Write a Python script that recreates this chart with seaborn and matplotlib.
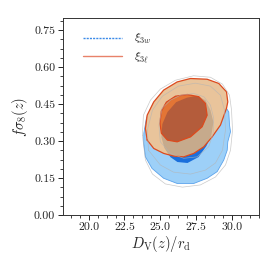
import matplotlib
matplotlib.use("Agg")
import matplotlib.pyplot as plt
import matplotlib.ticker as ticker
from matplotlib.lines import Line2D
import numpy as np
import pandas as pd
import seaborn as sns

sns.set_theme(style="ticks")
plt.rcParams["font.family"] = ["cmr10", "DejaVu Serif"]
plt.rcParams["mathtext.fontset"] = "cm"
plt.rcParams["axes.formatter.use_mathtext"] = True

# contour outlines (D_V/r_d, f sigma_8)
blue95_x = [29.54, 29.77, 29.82, 29.89, 29.70, 29.66, 29.42, 28.96, 28.26, 27.33, 26.17,
            25.23, 24.42, 23.96, 23.84, 23.85, 24.03, 24.51, 25.35, 26.40, 27.45, 28.49, 29.19]
blue95_y = [0.439, 0.418, 0.365, 0.338, 0.297, 0.263, 0.223, 0.176, 0.149, 0.128, 0.128,
            0.149, 0.189, 0.236, 0.291, 0.332, 0.393, 0.454, 0.499, 0.523, 0.527, 0.515, 0.482]

blue68_x = [27.56, 28.14, 28.49, 28.70, 28.56, 28.21, 27.66, 26.89, 26.19, 25.70, 25.28,
            25.07, 25.14, 25.50, 26.10, 26.85]
blue68_y = [0.484, 0.466, 0.426, 0.377, 0.324, 0.280, 0.235, 0.211, 0.215, 0.235, 0.272,
            0.316, 0.369, 0.418, 0.458, 0.476]

orange95_x = [24.08, 23.96, 24.08, 24.54, 25.23, 26.17, 27.10, 28.26, 29.07, 29.61, 29.70,
              29.61, 29.19, 28.61, 28.03, 27.33, 26.63, 25.93, 25.23, 24.54]
orange95_y = [0.304, 0.351, 0.405, 0.459, 0.507, 0.540, 0.554, 0.551, 0.534, 0.500, 0.459,
              0.433, 0.365, 0.317, 0.277, 0.250, 0.236, 0.239, 0.250, 0.270]

orange68_x = [26.87, 27.68, 28.14, 28.26, 27.91, 27.10, 26.17, 25.49, 25.07, 24.97, 25.07,
              25.42, 26.05]
orange68_y = [0.489, 0.480, 0.453, 0.405, 0.358, 0.317, 0.297, 0.304, 0.332, 0.373, 0.422,
              0.458, 0.482]

# thin grey outlines
grey_outer_x = [23.75, 23.82, 24.31, 25.00, 26.05, 27.31, 28.49, 29.33, 29.82, 29.96, 30.03,
                29.89, 29.54, 28.84, 27.79, 26.54, 25.35, 24.45, 23.96]
grey_outer_y = [0.324, 0.405, 0.466, 0.511, 0.547, 0.565, 0.559, 0.531, 0.486, 0.426, 0.345,
                0.263, 0.203, 0.154, 0.122, 0.113, 0.126, 0.166, 0.223]
grey_mid_x = [24.17, 24.10, 24.45, 25.14, 26.26, 27.45, 28.49, 29.19, 29.47, 29.54, 29.33,
              28.84, 28.14, 27.10, 25.91, 25.00]
grey_mid_y = [0.263, 0.345, 0.426, 0.482, 0.523, 0.535, 0.523, 0.486, 0.426, 0.345, 0.263,
              0.211, 0.182, 0.166, 0.174, 0.203]
grey_inner_x = [25.12, 25.70, 26.40, 27.33, 28.03, 28.49, 28.72, 28.68, 28.37, 27.56, 26.63,
                25.70, 25.00, 24.90]
grey_inner_y = [0.433, 0.466, 0.486, 0.493, 0.480, 0.446, 0.392, 0.331, 0.277, 0.236, 0.230,
                0.250, 0.297, 0.365]

legend_labels = [r"$\xi_{3w}$", r"$\xi_{3\ell}$"]

c_blue_light = "#9dd0f8"
c_blue_dark = "#1a6fdc"
c_tan = "#e9c49b"
c_greytan = "#c6aa8c"
c_orange = "#e37535"
c_brown = "#b45c3b"
c_edge = "#dc4a1e"


def closed(xs, ys):
    return pd.DataFrame({"x": list(xs) + [xs[0]], "y": list(ys) + [ys[0]]})


fig = plt.figure(figsize=(2.73, 2.73), dpi=100)
ax = fig.add_axes([0.23, 0.2125, 0.72, 0.722])

# blue filled contours
ax.fill(blue95_x, blue95_y, color=c_blue_light, lw=0.6, ec="#5aa3ec", zorder=1)
ax.fill(blue68_x, blue68_y, color=c_blue_dark, lw=0, zorder=2)

# orange filled contours, with the blended overlap areas
o95 = plt.Polygon(np.column_stack([orange95_x, orange95_y]), transform=ax.transData)
o68 = plt.Polygon(np.column_stack([orange68_x, orange68_y]), transform=ax.transData)
ax.fill(orange95_x, orange95_y, color=c_tan, lw=0, zorder=3)
ov = ax.fill(blue68_x, blue68_y, color=c_greytan, lw=0, zorder=4)[0]
ov.set_clip_path(o95)
ax.fill(orange68_x, orange68_y, color=c_orange, lw=0, zorder=5)
ov2 = ax.fill(blue68_x, blue68_y, color=c_brown, lw=0, zorder=6)[0]
ov2.set_clip_path(o68)
for xs, ys in [(orange95_x, orange95_y), (orange68_x, orange68_y)]:
    d = closed(xs, ys)
    ax.plot(d["x"], d["y"], color=c_edge, lw=0.9, zorder=7)

# grey outlines
for xs, ys in [(grey_outer_x, grey_outer_y), (grey_mid_x, grey_mid_y),
               (grey_inner_x, grey_inner_y)]:
    d = closed(xs, ys)
    sns.lineplot(data=d, x="x", y="y", sort=False, estimator=None, ax=ax,
                 color="#b4b4b4", lw=0.5, alpha=0.7, zorder=8)

ax.set_xlim(18.2, 31.9)
ax.set_ylim(0, 0.8)
ax.xaxis.set_major_locator(ticker.MultipleLocator(2.5))
ax.yaxis.set_major_locator(ticker.FixedLocator([0, 0.15, 0.30, 0.45, 0.60, 0.75]))
ax.xaxis.set_major_formatter(ticker.FormatStrFormatter("%.1f"))
ax.yaxis.set_major_formatter(ticker.FormatStrFormatter("%.2f"))
ax.xaxis.set_minor_locator(ticker.AutoMinorLocator(4))
ax.yaxis.set_minor_locator(ticker.AutoMinorLocator(4))
ax.tick_params(which="major", length=3.5, width=0.7, labelsize=8.5, colors="#222222",
               pad=2)
ax.tick_params(which="minor", length=2, width=0.6, colors="#222222")
for s in ax.spines.values():
    s.set_linewidth(0.7)
    s.set_color("#333333")

ax.set_xlabel(r"$D_\mathrm{V}(z)/r_\mathrm{d}$", fontsize=10.5, labelpad=1)
ax.set_ylabel(r"$f\sigma_8(z)$", fontsize=10.5, labelpad=3)

handles = [Line2D([], [], color="#3b8ae8", lw=1.0, ls=(0, (1.5, 0.8))),
           Line2D([], [], color="#e8826a", lw=1.0)]
ax.legend(handles, legend_labels, loc="upper left", frameon=False, fontsize=8.5,
          handlelength=3.3, borderaxespad=0.3, bbox_to_anchor=(0.06, 0.97),
          labelspacing=0.35, handletextpad=1.0)

fig.savefig("out.png", dpi=100)
